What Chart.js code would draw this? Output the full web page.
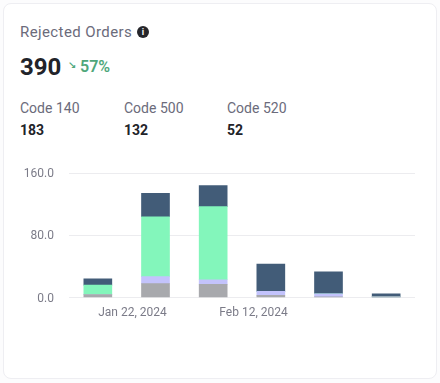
<!DOCTYPE html>
<html>
<head>
<meta charset="utf-8">
<script src="https://cdn.jsdelivr.net/npm/chart.js@4"></script>
<style>
    html, body { margin: 0; padding: 0; background: #fcfcfd; }
    body { width: 440px; height: 383px; overflow: hidden; position: relative; font-family: Roboto, sans-serif; }
    .card { position: absolute; left: 3px; top: 3px; width: 432px; height: 374px; background: #fff; border: 1px solid #eeeef2; border-radius: 8px; }
    .abs { position: absolute; white-space: nowrap; }
    .title { left: 20px; top: 22px; font-size: 15px; line-height: 20px; color: #6b6b7b; letter-spacing: .4px; }
    .info { left: 137px; top: 26px; width: 12px; height: 12px; border-radius: 50%; background: #26262b; color: #fff; font: bold 9px/12px Roboto, sans-serif; text-align: center; }
    .total { left: 20px; top: 52px; font-size: 24px; line-height: 30px; font-weight: 700; color: #222329; }
    .arrow { left: 68px; top: 59px; font: bold 10px/14px "DejaVu Sans", sans-serif; color: #4fa77b; }
    .change { left: 80px; top: 57px; font-size: 16px; line-height: 20px; font-weight: 600; color: #4fa77b; }
    .code { top: 99px; font-size: 14px; line-height: 18px; color: #6b6b7b; }
    .count { top: 121px; font-size: 14px; line-height: 18px; font-weight: 700; color: #222329; }
    canvas { position: absolute; left: 0; top: 151px; }
</style>
</head>
<body>
<div class="card"></div>
<div class="abs title">Rejected Orders</div>
<div class="abs info">i</div>
<div class="abs total">390</div>
<div class="abs arrow">↘</div>
<div class="abs change">57%</div>
<div class="abs code" style="left:20px">Code 140</div>
<div class="abs count" style="left:20px">183</div>
<div class="abs code" style="left:124px">Code 500</div>
<div class="abs count" style="left:124px">132</div>
<div class="abs code" style="left:227px">Code 520</div>
<div class="abs count" style="left:227px">52</div>
<canvas id="rejected-orders" width="440" height="179"></canvas>
<script>
// bars sit 10 days apart, the two labelled dates fall between them
const barDates = ['2024-01-16', '2024-01-26', '2024-02-05', '2024-02-15', '2024-02-25', '2024-03-06'];
const tickDates = ['2024-01-22', '2024-02-12'];
const yTicks = [0, 80, 160];

const greyValues = [4, 18, 17, 3, 1, 1];
const lavenderValues = [0, 9, 6, 5, 4, 0];
const greenValues = [12, 77, 94, 0, 0, 0];
const navyValues = [8, 30, 27, 35, 28, 4];

const DAY = 86400000;
const toTime = function (d) { return Date.parse(d + 'T00:00:00Z'); };
const barTimes = barDates.map(toTime);

function dataset(label, data, colour) {
    return { label: label, data: data, backgroundColor: colour, barThickness: 28 };
}

new Chart(document.getElementById('rejected-orders').getContext('2d'), {
    type: 'bar',
    data: {
        labels: barTimes,
        datasets: [
            dataset('Other', greyValues, '#a8a9ad'),
            dataset('Code 520', lavenderValues, '#c3c3fc'),
            dataset('Code 140', greenValues, '#83f6bb'),
            dataset('Code 500', navyValues, '#425c78')
        ]
    },
    options: {
        responsive: false,
        animation: false,
        layout: { padding: { left: 20, right: 25, top: 2, bottom: 2 } },
        plugins: { legend: { display: false }, tooltip: { enabled: false } },
        scales: {
            x: {
                type: 'linear',
                stacked: true,
                offset: false,
                min: barTimes[0] - 5 * DAY,
                max: barTimes[barTimes.length - 1] + 5 * DAY,
                grid: { display: false, drawTicks: false, offset: false },
                border: { display: false },
                afterBuildTicks: function (scale) {
                    scale.ticks = tickDates.map(function (d) { return { value: toTime(d) }; });
                },
                ticks: {
                    autoSkip: false,
                    maxRotation: 0,
                    padding: 8,
                    color: '#7b7b88',
                    font: { family: 'Roboto', size: 12 },
                    callback: function (value) {
                        return new Date(value).toLocaleDateString('en-US', {
                            month: 'short', day: 'numeric', year: 'numeric', timeZone: 'UTC'
                        });
                    }
                }
            },
            y: {
                stacked: true,
                min: 0,
                max: 160,
                afterBuildTicks: function (scale) {
                    scale.ticks = yTicks.map(function (v) { return { value: v }; });
                },
                afterFit: function (scale) { scale.width = 49; },
                grid: { color: '#ececef', drawTicks: false },
                border: { display: false },
                ticks: {
                    padding: 15,
                    labelOffset: 1,
                    color: '#7b7b88',
                    font: { family: 'Roboto', size: 12 },
                    callback: function (value) { return value.toFixed(1); }
                }
            }
        }
    }
});
</script>
</body>
</html>
